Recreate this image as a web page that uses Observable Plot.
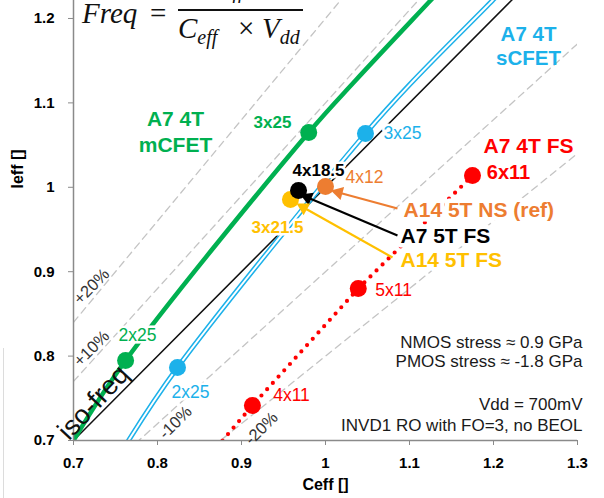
<!DOCTYPE html>
<html><head><meta charset="utf-8">
<script src="https://cdn.jsdelivr.net/npm/d3@7"></script>
<script src="https://cdn.jsdelivr.net/npm/@observablehq/plot@0.6"></script>
<style>
body{margin:0;background:#fff}
#wrap{position:relative;width:604px;height:498px;overflow:hidden;background:#fff;font-family:"Liberation Sans",Arial,sans-serif}
#ov{position:absolute;left:0;top:0;pointer-events:none}
</style></head><body>
<div id="wrap"><div id="chart"></div>
<svg id="ov" width="604" height="498">
  <line x1="3.5" x2="3.5" y1="348" y2="498" stroke="#dcdcdc" stroke-width="1"/>
  <g font-family="'Liberation Serif','DejaVu Serif',serif" font-style="italic" font-size="29" fill="#111">
    <text x="82" y="23">Freq</text>
    <text x="150" y="23" font-style="normal">=</text>
    <line x1="178" x2="303" y1="10" y2="10" stroke="#111" stroke-width="2"/>
    <text x="214" y="-9">I<tspan font-size="20" dy="7">eff</tspan></text>
    <text x="178" y="38">C<tspan font-size="20" dy="6">eff</tspan></text>
    <text x="238" y="38" font-style="normal">×</text>
    <text x="262" y="38">V<tspan font-size="20" dy="6">dd</tspan></text>
  </g>
</svg>
</div>
<script>
// ---- data ----
const xTicks = [0.7, 0.8, 0.9, 1.0, 1.1, 1.2, 1.3];
const xTickLabels = ["0.7", "0.8", "0.9", "1", "1.1", "1.2", "1.3"];
const yTicks = [0.7, 0.8, 0.9, 1.0, 1.1, 1.2];
const yTickLabels = ["0.7", "0.8", "0.9", "1", "1.1", "1.2"];

const isoRatios = [1.2, 1.1, 0.9, 0.8];
const isoLabels = ["+20%", "+10%", "-10%", "-20%"];
const isoLabelC = [0.7214, 0.7214, 0.8214, 0.9238];
const isoLabelI = [0.8825, 0.809, 0.7213, 0.7142];

// A7 4T mCFET
const mC = [0.762, 0.98], mI = [0.7948, 1.0649], mLab = ["2x25", "3x25"];
const mLabC = [0.7762, 0.9369], mLabI = [0.8244, 1.0768];
const mLabWeight = ["normal", "bold"];
const mTrendC = [0.70, 0.762, 0.98, 1.0357, 1.125, 1.135];
const mTrendI = [0.70, 0.7948, 1.0649, 1.1265, 1.2213, 1.232];
// A7 4T sCFET
const sC = [0.8238, 1.0476], sI = [0.7865, 1.0637], sLab = ["2x25", "3x25"];
const sLabC = [0.8393, 1.0917], sLabI = [0.7569, 1.0637];
const sTrendC = [0.7655, 0.8238, 1.0476, 1.1048, 1.1988, 1.209];
const sTrendI = [0.70, 0.7865, 1.0637, 1.1265, 1.2213, 1.232];
// A7 4T FS
const fC = [0.913, 1.039, 1.175], fI = [0.7415, 0.8801, 1.014], fLab = ["4x11", "5x11", "6x11"];
const fLabC = [0.9595, 1.081, 1.2179], fLabI = [0.7533, 0.8777, 1.0175];
const fLabWeight = ["normal", "normal", "bold"];
const fTrendC = [0.8774, 0.913, 1.039, 1.175];
const fTrendI = [0.70, 0.7415, 0.8801, 1.014];
// single cells
const cellNames = ["A7 5T FS", "A14 5T NS (ref)", "A14 5T FS"];
const cellC = [0.9679, 1.0, 0.9583];
const cellI = [0.9962, 1.0009, 0.9855];
const cellLab = ["4x18.5", "4x12", "3x21.5"];
const cellLabC = [0.9917, 1.0464, 0.9429];
const cellLabI = [1.0199, 1.0116, 0.9524];
const cellColors = ["#000000", "#ed7d31", "#ffc000"];
const cellLabWeight = ["bold", "normal", "bold"];
const cellNameC = [1.0893, 1.0929, 1.0893];
const cellNameI = [0.9417, 0.9725, 0.9133];
const arrowFromC = [1.0857, 1.0857, 1.0798], arrowFromI = [0.9429, 0.9749, 0.9168];
const arrowToC = [0.9786, 1.0155, 0.9738], arrowToI = [0.9879, 0.9938, 0.9761];

const notes = ["NMOS stress \u2248 0.9 GPa", "PMOS stress \u2248 -1.8 GPa", "Vdd = 700mV", "INVD1 RO with FO=3, no BEOL"];
const notesDy = [-93, -74, -31, -10];

const GREEN = "#00b050", BLUE = "#1cb1ea", RED = "#ff0000";
const FONT = "'Liberation Sans', Arial, sans-serif";

// ---- build tables ----
const zip = (a, b, extra = {}) => a.map((v, i) => ({c: v, i: b[i], ...Object.fromEntries(Object.entries(extra).map(([k, arr]) => [k, arr[i]]))}));
const isoLines = isoRatios.flatMap(r => [{r, c: 0.7, i: 0.7 * r}, {r, c: 1.3, i: 1.3 * r}]);
const isoText = zip(isoLabelC, isoLabelI, {t: isoLabels});
const mPts = zip(mC, mI), sPts = zip(sC, sI), fPts = zip(fC, fI);
const mText = zip(mLabC, mLabI, {t: mLab, w: mLabWeight});
const sText = zip(sLabC, sLabI, {t: sLab});
const fText = zip(fLabC, fLabI, {t: fLab, w: fLabWeight});
const cells = zip(cellC, cellI, {col: cellColors}).reverse();
const cellText = zip(cellLabC, cellLabI, {t: cellLab, col: cellColors, w: cellLabWeight});
const cellNameText = zip(cellNameC, cellNameI, {t: cellNames, col: cellColors});
const arrows = arrowFromC.map((c, k) => ({
  c1: c, i1: arrowFromI[k], c2: arrowToC[k], i2: arrowToI[k], col: cellColors[k],
  rot: Math.atan2(arrowToC[k] - c, (arrowToI[k] - arrowFromI[k]) * 844 / 840) * 180 / Math.PI
}));
const isBold = d => d.w === "bold", notBold = d => d.w !== "bold";
const halo = {stroke: "white", strokeWidth: 5, paintOrder: "stroke"};

const chart = Plot.plot({
  width: 604, height: 498,
  marginLeft: 73, marginRight: 27, marginTop: 0, marginBottom: 58,
  x: {domain: [0.7, 1.3]},
  y: {domain: [0.7, 1.2213]},
  style: {fontFamily: FONT, background: "white", overflow: "visible"},
  marks: [
    // iso-% dashed
    Plot.line(isoLines, {x: "c", y: "i", z: "r", stroke: "#c4c4c4", strokeWidth: 1.3, strokeDasharray: "7 5", clip: true}),
    // iso-freq
    Plot.line([{c: 0.7, i: 0.7}, {c: 1.3, i: 1.3}], {x: "c", y: "i", stroke: "#111", strokeWidth: 1.5, clip: true}),
    // sCFET double line
    Plot.line(zip(sTrendC, sTrendI), {x: "c", y: "i", curve: "catmull-rom", stroke: BLUE, strokeWidth: 5, clip: true}),
    Plot.line(zip(sTrendC, sTrendI), {x: "c", y: "i", curve: "catmull-rom", stroke: "white", strokeWidth: 2, clip: true}),
    // mCFET
    Plot.line(zip(mTrendC, mTrendI), {x: "c", y: "i", curve: "catmull-rom", stroke: GREEN, strokeWidth: 4.5, clip: true}),
    // FS dotted
    Plot.line(zip(fTrendC, fTrendI), {x: "c", y: "i", stroke: RED, strokeWidth: 4.2, strokeDasharray: "0 8.5", strokeLinecap: "round", clip: true}),
    // axes
    Plot.ruleX([0.7], {stroke: "#8a8a8a", strokeWidth: 1.5}),
    Plot.ruleY([0.7], {stroke: "#8a8a8a", strokeWidth: 1.5}),
    Plot.axisX({ticks: xTicks, tickFormat: d => xTickLabels[xTicks.indexOf(d)], tickSize: 5, tickPadding: 12, fontSize: 15, fontWeight: "bold", stroke: "#8a8a8a", fill: "#000", label: null}),
    Plot.axisY({ticks: yTicks, tickFormat: d => yTickLabels[yTicks.indexOf(d)], tickSize: 5, tickPadding: 14, fontSize: 15, fontWeight: "bold", stroke: "#8a8a8a", fill: "#000", label: null}),
    Plot.text(["Ceff []"], {frameAnchor: "bottom", dy: 49, fontSize: 16, fontWeight: "bold", fill: "#000"}),
    Plot.text(["Ieff []"], {frameAnchor: "left", dx: -56, dy: -32, rotate: -90, fontSize: 16, fontWeight: "bold", fill: "#000"}),
    // iso labels
    Plot.text(isoText, {x: "c", y: "i", text: "t", rotate: -45, fontSize: 16.5, fill: "#333"}),
    Plot.text([{c: 0.7238, i: 0.745}], {x: "c", y: "i", text: () => "iso-freq", rotate: -47, fontSize: 27, fill: "#111"}),
    // point labels with halos
    Plot.text(cellText, {filter: isBold, x: "c", y: "i", text: "t", fill: "col", fontWeight: "bold", fontSize: 17, ...halo}),
    Plot.text(cellText, {filter: notBold, x: "c", y: "i", text: "t", fill: "col", fontSize: 17.5, ...halo}),
    Plot.text(mText, {filter: isBold, x: "c", y: "i", text: "t", fill: GREEN, fontSize: 17, fontWeight: "bold", ...halo}),
    Plot.text(mText, {filter: notBold, x: "c", y: "i", text: "t", fill: GREEN, fontSize: 17.5, ...halo}),
    Plot.text(sText, {x: "c", y: "i", text: "t", fill: BLUE, fontSize: 17.5, ...halo}),
    Plot.text(fText, {filter: notBold, x: "c", y: "i", text: "t", fill: RED, fontSize: 17.5}),
    Plot.text(fText, {filter: isBold, x: "c", y: "i", text: "t", fill: RED, fontSize: 20, fontWeight: "bold"}),
    // series titles
    Plot.text([{c: 0.8214, i: 1.0667}], {x: "c", y: "i", text: () => "A7 4T\nmCFET", fill: GREEN, fontSize: 21, fontWeight: "bold", lineHeight: 1.2}),
    Plot.text([{c: 1.2417, i: 1.1686}], {x: "c", y: "i", text: () => "A7 4T\nsCFET", fill: BLUE, fontSize: 20.5, fontWeight: "bold", lineHeight: 1.2}),
    Plot.text([{c: 1.2417, i: 1.0489}], {x: "c", y: "i", text: () => "A7 4T FS", fill: RED, fontSize: 21, fontWeight: "bold"}),
    Plot.text(cellNameText, {x: "c", y: "i", text: "t", fill: "col", fontSize: 21, fontWeight: "bold", textAnchor: "start", stroke: "white", strokeWidth: 9, paintOrder: "stroke"}),
    // dots
    Plot.dot(mPts, {x: "c", y: "i", r: 8.5, fill: GREEN}),
    Plot.dot(sPts, {x: "c", y: "i", r: 8.5, fill: BLUE}),
    Plot.dot(fPts, {x: "c", y: "i", r: 8.5, fill: RED}),
    Plot.dot(cells, {x: "c", y: "i", r: 8.5, fill: "col"}),
    // arrows
    Plot.link(arrows, {x1: "c1", y1: "i1", x2: "c2", y2: "i2", stroke: "col", strokeWidth: 2.2}),
    Plot.dot(arrows, {x: "c2", y: "i2", symbol: "triangle2", r: 6.5, fill: "col", rotate: "rot"}),
    // notes
    ...notes.map((t, k) => Plot.text([t], {frameAnchor: "bottom-right", dx: 5, dy: notesDy[k], textAnchor: "end", fontSize: 17, fill: "#1a1a1a"}))
  ]
});
document.getElementById("chart").appendChild(chart);
</script>
</body></html>
